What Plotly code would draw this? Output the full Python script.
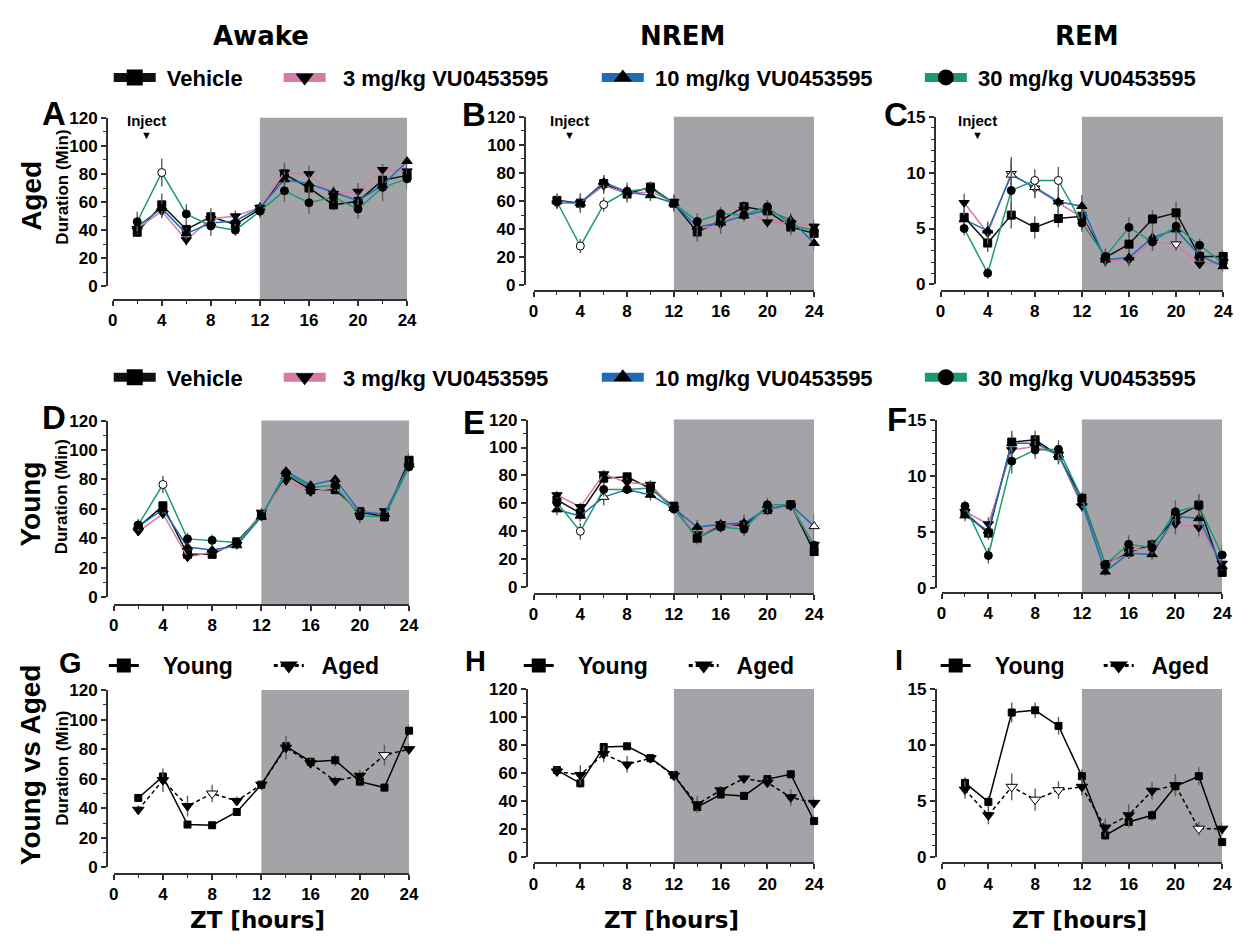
import plotly.graph_objects as go

W, H = 1247, 946
FONT = "Liberation Sans, Arial, Helvetica, sans-serif"
WIDE = "DejaVu Sans, Liberation Sans, sans-serif"

# ---------------- data ----------------
zt = [2, 4, 6, 8, 10, 12, 14, 16, 18, 20, 22, 24]

# Aged - Awake (A)
a_veh = [38.5, 58, 40.5, 49.5, 44, 55, 80, 70, 58, 60.5, 75.5, 79]
a_3 = [41, 53.5, 33, 48, 50, 56, 81, 80, 66, 67.5, 83, 82]
a_10 = [42.5, 55.5, 37.5, 45, 46.5, 56, 76, 73, 67, 61, 72, 89]
a_30 = [46, 81, 51.5, 43, 40, 53.5, 68, 59.5, 63.5, 55, 70.5, 76.5]
a_veh_e = [3, 8, 5, 6, 4, 5, 8, 8, 4, 6, 8, 6]
a_3_e = [4, 5, 4, 5, 4, 4, 6, 6, 5, 6, 4, 5]
a_10_e = [3, 6, 4, 5, 4, 4, 6, 6, 4, 5, 5, 4]
a_30_e = [7, 10, 7, 7, 4, 5, 8, 8, 4, 7, 10, 7]

# Aged - NREM (B)
b_veh = [60.5, 58.5, 72.5, 65, 70, 58.5, 38, 46, 56, 53, 41.5, 37]
b_3 = [58.5, 58.5, 71, 65.5, 66.5, 59.5, 40, 43.5, 54, 45, 44.5, 42]
b_10 = [60, 58.5, 73.5, 66.5, 64, 58.5, 41.5, 44.5, 49.5, 53.5, 46.5, 30]
b_30 = [59.5, 28, 57.5, 67, 69, 58.5, 45.5, 51, 50, 56, 43, 39]
b_veh_e = [5, 7, 6, 6, 4, 6, 7, 5, 4, 4, 6, 7]
b_3_e = [4, 5, 6, 5, 4, 5, 5, 7, 4, 4, 5, 5]
b_10_e = [4, 5, 5, 5, 4, 5, 5, 5, 4, 4, 5, 5]
b_30_e = [5, 5, 5, 6, 4, 5, 6, 5, 4, 5, 6, 6]

# Aged - REM (C)
c_veh = [6.0, 3.7, 6.2, 5.1, 5.9, 6.1, 2.4, 3.6, 5.85, 6.4, 2.5, 2.5]
c_3 = [7.3, 4.6, 9.9, 8.6, 7.3, 6.0, 2.1, 2.2, 3.8, 3.6, 1.8, 2.0]
c_10 = [5.8, 4.8, 9.8, 8.7, 7.4, 7.0, 2.2, 2.4, 4.2, 4.9, 2.6, 1.6]
c_30 = [5.0, 1.0, 8.4, 9.3, 9.3, 5.5, 2.5, 5.1, 3.8, 5.2, 3.5, 1.9]
c_veh_e = [0.8, 0.8, 1.2, 1.0, 0.8, 1.2, 0.8, 1.0, 0.8, 1.0, 0.5, 0.6]
c_3_e = [0.8, 1.0, 1.3, 0.8, 0.8, 1.0, 0.5, 0.6, 0.8, 0.6, 0.4, 0.5]
c_10_e = [0.6, 0.8, 1.6, 1.0, 1.2, 1.0, 0.5, 0.7, 0.8, 0.8, 0.6, 0.5]
c_30_e = [0.6, 0.5, 2.4, 1.0, 1.2, 0.8, 0.6, 0.9, 0.8, 0.8, 0.6, 0.5]

# Young - Awake (D)
d_veh = [47.5, 62, 29, 29, 37.5, 55.5, 83, 73, 73, 58, 54.5, 93]
d_3 = [44.5, 56.5, 27, 30.5, 35.5, 57.5, 79, 71.5, 74.5, 57.5, 58.5, 89]
d_10 = [48, 59.5, 34, 32, 35, 54.5, 85.5, 76, 80, 58, 56.5, 90]
d_30 = [49, 76.5, 39.5, 38.5, 37, 55, 84, 74.5, 76, 55, 54.5, 88.5]
d_veh_e = [3, 3, 2, 2, 2, 3, 3, 3, 3, 3, 3, 5]
d_3_e = [3, 3, 2, 2, 2, 3, 3, 3, 3, 3, 2, 4]
d_10_e = [3, 3, 2, 2, 2, 3, 3, 3, 3, 3, 2, 4]
d_30_e = [4, 6, 4, 4, 3, 3, 3, 3, 4, 5, 3, 4]

# Young - NREM (E)
e_veh = [62.5, 53, 78, 79, 70.5, 58, 35, 44, 44.5, 55.5, 59, 25.5]
e_3 = [66, 57.5, 81, 75, 73.5, 56, 38, 45, 42.5, 56, 58, 30.5]
e_10 = [55.5, 51, 64.5, 70, 66, 56.5, 43, 45, 46, 56, 59, 43.5]
e_30 = [60.5, 40, 70, 70, 71, 56, 35.5, 43, 41.5, 59, 59, 30]
e_veh_e = [4, 4, 4, 3, 4, 3, 4, 4, 6, 4, 3, 4]
e_3_e = [3, 3, 3, 3, 3, 3, 4, 3, 4, 3, 3, 3]
e_10_e = [4, 4, 6, 3, 4, 3, 5, 4, 6, 3, 3, 9]
e_30_e = [4, 6, 5, 3, 4, 3, 5, 4, 5, 5, 3, 4]

# Young - REM (F)
f_veh = [6.7, 4.9, 13.0, 13.2, 11.8, 8.0, 2.1, 3.2, 3.85, 6.3, 7.4, 1.4]
f_3 = [6.8, 5.7, 12.3, 12.6, 11.9, 7.3, 1.95, 3.4, 3.55, 5.7, 5.4, 2.2]
f_10 = [6.45, 5.1, 12.9, 12.9, 11.85, 7.6, 1.45, 3.1, 3.0, 6.4, 6.2, 1.95]
f_30 = [7.3, 2.9, 11.3, 12.3, 12.35, 8.0, 2.1, 3.9, 3.6, 6.8, 7.3, 2.95]
f_veh_e = [0.6, 0.6, 1.0, 0.8, 0.8, 0.5, 0.4, 0.5, 0.5, 0.8, 1.0, 0.4]
f_3_e = [0.6, 0.6, 1.0, 0.8, 0.8, 0.5, 0.4, 0.6, 0.5, 0.9, 0.8, 0.4]
f_10_e = [0.5, 0.5, 0.8, 0.6, 0.7, 0.5, 0.4, 0.5, 0.5, 0.8, 0.8, 0.4]
f_30_e = [0.5, 0.7, 1.1, 0.8, 0.8, 0.5, 0.4, 0.8, 0.6, 1.0, 1.0, 0.9]

# Young vs Aged (G, H, I)
g_young = [47, 61.5, 29, 28.5, 37.5, 56, 82, 71.5, 72.5, 58, 54, 92.5]
g_aged = [39, 59, 41.5, 50, 45, 56, 81, 70.5, 58.5, 62, 76, 80]
g_young_e = [2, 3, 2, 2, 2, 2, 3, 2, 4, 2, 2, 4]
g_aged_e = [3, 8, 7, 6, 3, 3, 8, 3, 3, 4, 7, 4]
h_young = [62, 52.5, 78.5, 79, 70.5, 58.5, 35.5, 44.5, 43.5, 55.5, 59, 25.5]
h_aged = [61, 58.5, 73.5, 66, 70.5, 58, 37.5, 47.5, 56, 53, 42.5, 38.5]
h_young_e = [2, 3, 2, 2, 2, 2, 3, 2, 3, 2, 2, 4]
h_aged_e = [3, 7, 6, 6, 2, 3, 6, 3, 3, 3, 6, 4]
i_young = [6.6, 4.9, 12.9, 13.1, 11.7, 7.2, 1.9, 3.1, 3.7, 6.3, 7.2, 1.3]
i_aged = [6.0, 3.7, 6.25, 5.1, 5.95, 6.25, 2.6, 3.7, 5.9, 6.4, 2.5, 2.5]
i_young_e = [0.5, 0.5, 0.9, 0.7, 0.8, 0.6, 0.4, 0.5, 0.5, 0.8, 0.8, 0.4]
i_aged_e = [0.8, 0.8, 1.2, 1.0, 0.8, 0.8, 0.8, 1.0, 0.8, 1.0, 0.6, 0.6]

# ZT points drawn as open (significant) markers
open_pts = {
    ("A", "30"): [4],
    ("B", "30"): [4, 6],
    ("C", "3"): [6, 8, 20], ("C", "10"): [6, 8], ("C", "30"): [8, 10],
    ("D", "30"): [4],
    ("E", "10"): [6, 24], ("E", "30"): [4],
    ("G", "aged"): [8, 22],
    ("I", "aged"): [6, 8, 10, 22],
}

series_names = ["Vehicle", "3 mg/kg VU0453595", "10 mg/kg VU0453595", "30 mg/kg VU0453595"]
col_titles = ["Awake", "NREM", "REM"]
row_titles = ["Aged", "Young", "Young vs Aged"]
x_tick_vals = [0, 4, 8, 12, 16, 20, 24]
dark_phase = [12, 24]

# ---------------- styling ----------------
sty = {
    "veh": dict(color="#111111", symbol="square", size=8),
    "3": dict(color="#d77aa5", symbol="triangle-down", size=9),
    "10": dict(color="#1c6db5", symbol="triangle-up", size=9),
    "30": dict(color="#1a9a70", symbol="circle", size=8),
}

# panel layout in pixels: x of ZT0/ZT24, y of value 0 / max, y-axis line x, x-axis line y
P = {
    "A": dict(x0=109, x1=407, y0=283, y1=111, yl=103, xl=297, ymax=120),
    "B": dict(x0=535, x1=819, y0=282, y1=110, yl=526, xl=288, ymax=120),
    "C": dict(x0=947, x1=1233, y0=281, y1=110, yl=941, xl=288, ymax=15),
    "D": dict(x0=110, x1=409, y0=600, y1=420, yl=103, xl=608, ymax=120),
    "E": dict(x0=535, x1=819, y0=590, y1=419, yl=528, xl=597, ymax=120),
    "F": dict(x0=948, x1=1232, y0=591, y1=419, yl=942, xl=596, ymax=15),
    "G": dict(x0=110, x1=409, y0=876, y1=695, yl=103, xl=883, ymax=120),
    "H": dict(x0=535, x1=819, y0=865, y1=694, yl=528, xl=872, ymax=120),
    "I": dict(x0=948, x1=1232, y0=865, y1=694, yl=942, xl=872, ymax=15),
}
order = ["A", "B", "C", "D", "E", "F", "G", "H", "I"]

def fx(px):
    return px / W

def fy(py):
    return 1 - py / H

fig = go.Figure()
layout = dict(
    width=W, height=H, margin=dict(l=0, r=0, t=0, b=0),
    paper_bgcolor="white", plot_bgcolor="rgba(0,0,0,0)",
    showlegend=True, font=dict(family=FONT, color="black"),
)
shapes = []
ann = []
AX = "#303030"
tickfont = dict(family=FONT, size=17, color="black", weight="bold")

for i, k in enumerate(order):
    p = P[k]
    n = "" if i == 0 else str(i + 1)
    big = p["ymax"] > 20
    layout["xaxis" + n] = dict(
        domain=[fx(p["x0"]), fx(p["x1"])], range=[0, 24], anchor="free", position=fy(p["xl"]),
        tickmode="array", tickvals=x_tick_vals, ticks="outside", ticklen=5, tickwidth=1.5,
        tickcolor=AX, showline=True, linecolor=AX, linewidth=1.5, showgrid=False, zeroline=False,
        tickfont=tickfont, fixedrange=True,
        minor=dict(dtick=2, tick0=0, ticks="outside", ticklen=3, tickwidth=1, tickcolor=AX, showgrid=False),
    )
    layout["yaxis" + n] = dict(
        domain=[fy(p["y0"]), fy(p["y1"])], range=[0, p["ymax"]], anchor="free", position=fx(p["yl"]),
        tickmode="linear", tick0=0, dtick=20 if big else 5, ticks="outside", ticklen=5, tickwidth=1.5,
        tickcolor=AX, showline=True, linecolor=AX, linewidth=1.5, showgrid=False, zeroline=False,
        tickfont=tickfont, fixedrange=True,
        minor=dict(dtick=10 if big else 1, tick0=0, ticks="outside", ticklen=3, tickwidth=1,
                   tickcolor=AX, showgrid=False),
    )
    shapes.append(dict(type="rect", xref="x" + n, yref="paper", x0=dark_phase[0], x1=dark_phase[1],
                       y0=fy(p["xl"]), y1=fy(p["y1"]), fillcolor="#a3a3a8", line=dict(width=0),
                       layer="below"))

def add_series(k, key, vals, errs, color, symbol, size, dash="solid", ax_i=0):
    n = "" if ax_i == 0 else str(ax_i + 1)
    opens = open_pts.get((k, key), [])
    fills = ["white" if z in opens else "black" for z in zt]
    fig.add_trace(go.Scatter(
        x=zt, y=vals, xaxis="x" + n, yaxis="y" + n, mode="lines+markers",
        line=dict(color=color, width=1.5, dash=dash),
        marker=dict(symbol=symbol, size=size, color=fills, line=dict(color="black", width=1)),
        error_y=dict(type="data", array=errs, visible=True, color="#5e5e5e", thickness=1.4, width=0),
        cliponaxis=False, showlegend=False, hoverinfo="skip",
    ))

drug = {
    "A": [(a_veh, a_veh_e), (a_3, a_3_e), (a_10, a_10_e), (a_30, a_30_e)],
    "B": [(b_veh, b_veh_e), (b_3, b_3_e), (b_10, b_10_e), (b_30, b_30_e)],
    "C": [(c_veh, c_veh_e), (c_3, c_3_e), (c_10, c_10_e), (c_30, c_30_e)],
    "D": [(d_veh, d_veh_e), (d_3, d_3_e), (d_10, d_10_e), (d_30, d_30_e)],
    "E": [(e_veh, e_veh_e), (e_3, e_3_e), (e_10, e_10_e), (e_30, e_30_e)],
    "F": [(f_veh, f_veh_e), (f_3, f_3_e), (f_10, f_10_e), (f_30, f_30_e)],
}
keys = ["veh", "3", "10", "30"]
for k, lst in drug.items():
    ai = order.index(k)
    for key, (v, e) in zip(keys, lst):
        s = sty[key]
        add_series(k, key, v, e, s["color"], s["symbol"], s["size"], ax_i=ai)

cmp = {
    "G": [(g_young, g_young_e), (g_aged, g_aged_e)],
    "H": [(h_young, h_young_e), (h_aged, h_aged_e)],
    "I": [(i_young, i_young_e), (i_aged, i_aged_e)],
}
for k, ((yv, ye), (av, ae)) in cmp.items():
    ai = order.index(k)
    add_series(k, "young", yv, ye, "black", "square", 7, "solid", ai)
    add_series(k, "aged", av, ae, "black", "triangle-down", 10, "4px,3px", ai)

# ---------------- legends (one legend box per entry) ----------------
leg_i = [0]

def add_legend(name, line_x, text_x, y_px, color, symbol, msize, lwidth, dash="solid", fsize=22, iw=40):
    leg_i[0] += 1
    lid = "legend" if leg_i[0] == 1 else "legend%d" % leg_i[0]
    lx = line_x - 10
    natural = lx + iw + 13
    nsp = max(0, int(round((text_x - natural) / (0.278 * fsize))))
    fig.add_trace(go.Scatter(
        x=[None], y=[None], mode="lines+markers", name="\u00a0" * nsp + name, legend=lid,
        line=dict(color=color, width=lwidth, dash=dash),
        marker=dict(symbol=symbol, size=msize, color="black", line=dict(width=0)),
        showlegend=True, hoverinfo="skip",
    ))
    layout[lid] = dict(
        x=fx(lx), y=fy(y_px), xanchor="left", yanchor="middle",
        orientation="h", bgcolor="rgba(0,0,0,0)", borderwidth=0, itemwidth=iw,
        font=dict(family=FONT, size=fsize, color="black", weight="bold"),
        itemclick=False, itemdoubleclick=False,
    )

for y_px in (70, 376):
    for (name, key, lxp, tx) in zip(series_names, keys, [115, 287, 609, 936], [167, 344, 661, 985]):
        s = sty[key]
        add_legend(name, lxp, tx, y_px, s["color"], s["symbol"], 16, 9, iw=42)

for (ly, ty), (la, ta) in [((110, 162), (277, 325)), ((530, 582), (697, 745)), ((952, 1002), (1117, 1165))]:
    add_legend("Young", ly, ty, 670, "black", "square", 14, 3, "solid", 23, iw=30)
    add_legend("Aged", la, ta, 670, "black", "triangle-down", 16, 3, "4px,3px", 23, iw=30)

# ---------------- annotations ----------------
def text(x, y, s, size, angle=0, xref="paper", family=FONT):
    ann.append(dict(x=x, y=y, xref=xref, yref="paper", text=s, showarrow=False,
                    xanchor="center", yanchor="middle", textangle=angle,
                    font=dict(family=family, size=size, color="black", weight="bold")))

for t, cx in zip(col_titles, [259, 686, 1095]):
    text(fx(cx), fy(28), t, 26, family=WIDE)
for t, cy in zip(row_titles, [191, 505, 771]):
    text(fx(26), fy(cy), t, 28, -90)
for cy in [182, 498, 775]:
    text(fx(58), fy(cy), "Duration (Min)", 17, -90)
letters = {"A": (50, 107), "B": (475, 108), "C": (902, 108), "D": (50, 417), "E": (475, 422),
           "F": (903, 419), "G": (66, 667), "H": (476, 665), "I": (905, 664)}
for k, (lx, ly) in letters.items():
    text(fx(lx), fy(ly), k, 33 if k in "ABCDEF" else 29)
for k, ix in [("A", 2.75), ("B", 3.1), ("C", 3.1)]:
    n = "" if k == "A" else str(order.index(k) + 1)
    text(ix, fy(114), "Inject", 15, xref="x" + n)
    text(ix, fy(129), "▼", 11, xref="x" + n)
for cx in [256, 675, 1088]:
    text(fx(cx), fy(930), "ZT [hours]", 23, family=WIDE)

layout["shapes"] = shapes
layout["annotations"] = ann
fig.update_layout(**layout)
fig.write_html("out.html")
